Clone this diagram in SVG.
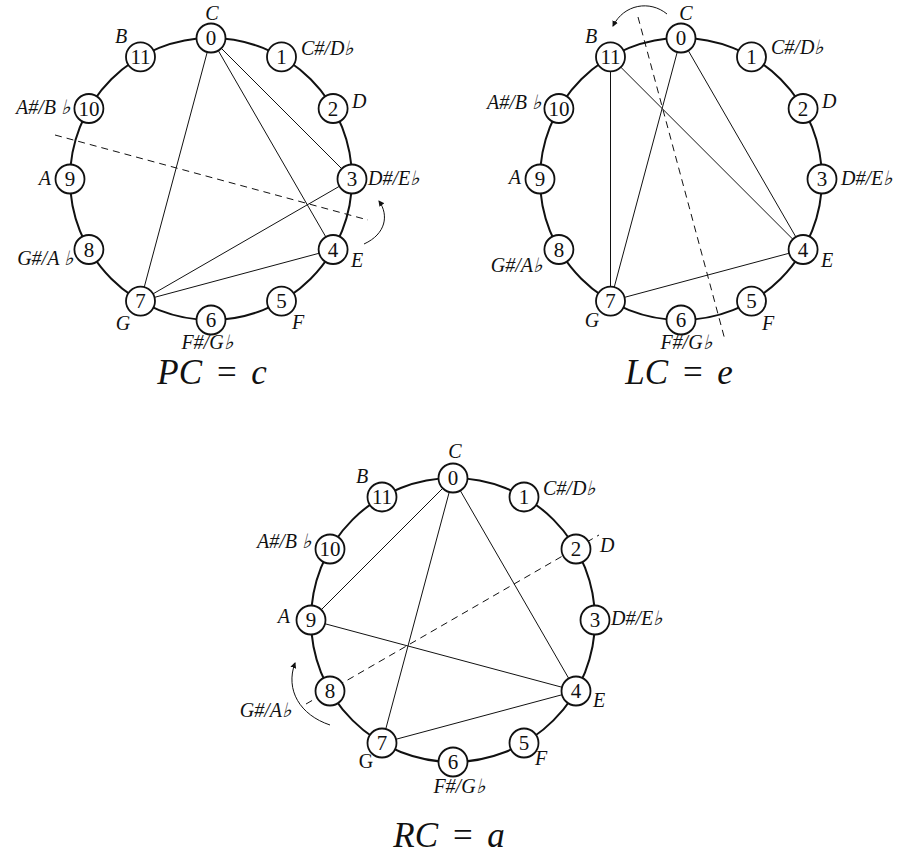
<svg xmlns="http://www.w3.org/2000/svg" width="901" height="854" viewBox="0 0 901 854">
<style>
.ring{fill:none;stroke:#111;stroke-width:2}
.chord{stroke:#111;stroke-width:1;fill:none}
.axis{stroke:#111;stroke-width:1;stroke-dasharray:7 5;fill:none}
.arr{stroke:#111;stroke-width:1;fill:none;marker-end:url(#ah)}
.node circle{fill:#fff;stroke:#111;stroke-width:1.8}
.num{font-family:"Liberation Serif","Times New Roman",serif;font-size:21px;text-anchor:middle;fill:#111}
.lab{font-family:"Liberation Serif","Times New Roman",serif;font-style:italic;font-size:20px;fill:#111}
.up{font-style:normal}
.m{text-anchor:middle}
.e{text-anchor:end}
.title{font-family:"Liberation Serif","Times New Roman",serif;font-style:italic;font-size:35px;word-spacing:4px;text-anchor:middle;fill:#111}
</style>
<defs>
<marker id="ah" markerWidth="8" markerHeight="8" refX="5" refY="3" orient="auto" markerUnits="userSpaceOnUse">
<path d="M0,0 L6,3 L0,6 Z" fill="#111"/>
</marker>
</defs>

<g id="rings">
<circle class="ring" cx="211" cy="179" r="141"/>
<circle class="ring" cx="681" cy="179" r="141"/>
<circle class="ring" cx="453" cy="620" r="142"/>
</g>

<g id="connectors">
<!-- PC = c -->
<line class="chord" x1="211" y1="38" x2="140.5" y2="301.1"/>
<line class="chord" x1="211" y1="38" x2="352" y2="179"/>
<line class="chord" x1="211" y1="38" x2="333.1" y2="249.5"/>
<line class="chord" x1="140.5" y1="301.1" x2="352" y2="179"/>
<line class="chord" x1="140.5" y1="301.1" x2="333.1" y2="249.5"/>
<line class="axis" x1="55" y1="135" x2="368" y2="220"/>
<path class="arr" d="M364,244 C386,234 389,215 379,201"/>
<!-- LC = e -->
<line class="chord" x1="610.5" y1="56.9" x2="610.5" y2="301.1"/>
<line class="chord" x1="610.5" y1="56.9" x2="803.1" y2="249.5"/>
<line class="chord" x1="681" y1="38" x2="610.5" y2="301.1"/>
<line class="chord" x1="681" y1="38" x2="803.1" y2="249.5"/>
<line class="chord" x1="610.5" y1="301.1" x2="803.1" y2="249.5"/>
<line class="axis" x1="638" y1="17" x2="725" y2="340"/>
<path class="arr" d="M667,14 C650,0 624,4 613,26"/>
<!-- RC = a -->
<line class="chord" x1="453" y1="478" x2="311" y2="620"/>
<line class="chord" x1="453" y1="478" x2="382" y2="743"/>
<line class="chord" x1="453" y1="478" x2="576" y2="691"/>
<line class="chord" x1="311" y1="620" x2="576" y2="691"/>
<line class="chord" x1="382" y1="743" x2="576" y2="691"/>
<line class="axis" x1="306" y1="704" x2="599" y2="535"/>
<path class="arr" d="M330,725 C300,715 285,690 295,663"/>
</g>

<!-- PC = c nodes -->
<g id="pc-0" class="node"><circle cx="211" cy="38" r="14.5"/><text class="num" x="211" y="45">0</text><text class="lab m" x="212" y="20">C</text></g>
<g id="pc-1" class="node"><circle cx="281.5" cy="56.9" r="14.5"/><text class="num" x="281.5" y="63.9">1</text><text class="lab" x="301" y="55">C#/D♭</text></g>
<g id="pc-2" class="node"><circle cx="333.1" cy="108.5" r="14.5"/><text class="num" x="333.1" y="115.5">2</text><text class="lab" x="352" y="108">D</text></g>
<g id="pc-3" class="node"><circle cx="352" cy="179" r="14.5"/><text class="num" x="352" y="186">3</text><text class="lab" x="368" y="185">D#/E♭</text></g>
<g id="pc-4" class="node"><circle cx="333.1" cy="249.5" r="14.5"/><text class="num" x="333.1" y="256.5">4</text><text class="lab" x="351" y="267">E</text></g>
<g id="pc-5" class="node"><circle cx="281.5" cy="301.1" r="14.5"/><text class="num" x="281.5" y="308.1">5</text><text class="lab" x="292" y="329">F</text></g>
<g id="pc-6" class="node"><circle cx="211" cy="320" r="14.5"/><text class="num" x="211" y="327">6</text><text class="lab m" x="207" y="349">F#/G♭</text></g>
<g id="pc-7" class="node"><circle cx="140.5" cy="301.1" r="14.5"/><text class="num" x="140.5" y="308.1">7</text><text class="lab m" x="123" y="330">G</text></g>
<g id="pc-8" class="node"><circle cx="88.9" cy="249.5" r="14.5"/><text class="num" x="88.9" y="256.5">8</text><text class="lab e" x="73" y="265">G#/A ♭</text></g>
<g id="pc-9" class="node"><circle cx="70" cy="179" r="14.5"/><text class="num" x="70" y="186">9</text><text class="lab e" x="51" y="185">A</text></g>
<g id="pc-10" class="node"><circle cx="88.9" cy="108.5" r="14.5"/><text class="num" x="88.9" y="115.5">10</text><text class="lab e" x="70" y="114">A#/B ♭</text></g>
<g id="pc-11" class="node"><circle cx="140.5" cy="56.9" r="14.5"/><text class="num" x="140.5" y="63.9">11</text><text class="lab m" x="121" y="43">B</text></g>

<!-- LC = e nodes -->
<g id="lc-0" class="node"><circle cx="681" cy="38" r="14.5"/><text class="num" x="681" y="45">0</text><text class="lab m" x="686" y="20">C</text></g>
<g id="lc-1" class="node"><circle cx="751.5" cy="56.9" r="14.5"/><text class="num" x="751.5" y="63.9">1</text><text class="lab" x="771" y="54">C#/D♭</text></g>
<g id="lc-2" class="node"><circle cx="803.1" cy="108.5" r="14.5"/><text class="num" x="803.1" y="115.5">2</text><text class="lab" x="822" y="108">D</text></g>
<g id="lc-3" class="node"><circle cx="822" cy="179" r="14.5"/><text class="num" x="822" y="186">3</text><text class="lab" x="841" y="185">D#/E♭</text></g>
<g id="lc-4" class="node"><circle cx="803.1" cy="249.5" r="14.5"/><text class="num" x="803.1" y="256.5">4</text><text class="lab" x="821" y="267">E</text></g>
<g id="lc-5" class="node"><circle cx="751.5" cy="301.1" r="14.5"/><text class="num" x="751.5" y="308.1">5</text><text class="lab" x="762" y="330">F</text></g>
<g id="lc-6" class="node"><circle cx="681" cy="320" r="14.5"/><text class="num" x="681" y="327">6</text><text class="lab m" x="686" y="349">F#/G♭</text></g>
<g id="lc-7" class="node"><circle cx="610.5" cy="301.1" r="14.5"/><text class="num" x="610.5" y="308.1">7</text><text class="lab m" x="592" y="327">G</text></g>
<g id="lc-8" class="node"><circle cx="558.9" cy="249.5" r="14.5"/><text class="num" x="558.9" y="256.5">8</text><text class="lab e" x="542" y="272">G#/A♭</text></g>
<g id="lc-9" class="node"><circle cx="540" cy="179" r="14.5"/><text class="num" x="540" y="186">9</text><text class="lab e" x="521" y="184">A</text></g>
<g id="lc-10" class="node"><circle cx="558.9" cy="108.5" r="14.5"/><text class="num" x="558.9" y="115.5">10</text><text class="lab e" x="541" y="109">A#/B ♭</text></g>
<g id="lc-11" class="node"><circle cx="610.5" cy="56.9" r="14.5"/><text class="num" x="610.5" y="63.9">11</text><text class="lab m" x="591" y="43">B</text></g>

<!-- RC = a nodes -->
<g id="rc-0" class="node"><circle cx="453" cy="478" r="14.5"/><text class="num" x="453" y="485">0</text><text class="lab m" x="455" y="458">C</text></g>
<g id="rc-1" class="node"><circle cx="524" cy="497" r="14.5"/><text class="num" x="524" y="504">1</text><text class="lab" x="543" y="495">C#/D♭</text></g>
<g id="rc-2" class="node"><circle cx="576" cy="549" r="14.5"/><text class="num" x="576" y="556">2</text><text class="lab" x="600" y="552">D</text></g>
<g id="rc-3" class="node"><circle cx="595" cy="620" r="14.5"/><text class="num" x="595" y="627">3</text><text class="lab" x="611" y="625">D#/E♭</text></g>
<g id="rc-4" class="node"><circle cx="576" cy="691" r="14.5"/><text class="num" x="576" y="698">4</text><text class="lab" x="593" y="707">E</text></g>
<g id="rc-5" class="node"><circle cx="524" cy="743" r="14.5"/><text class="num" x="524" y="750">5</text><text class="lab" x="535" y="765">F</text></g>
<g id="rc-6" class="node"><circle cx="453" cy="762" r="14.5"/><text class="num" x="453" y="769">6</text><text class="lab m" x="459" y="793">F#/G♭</text></g>
<g id="rc-7" class="node"><circle cx="382" cy="743" r="14.5"/><text class="num" x="382" y="750">7</text><text class="lab up m" x="366" y="768">G</text></g>
<g id="rc-8" class="node"><circle cx="330" cy="691" r="14.5"/><text class="num" x="330" y="698">8</text><text class="lab e" x="291" y="717">G#/A♭</text></g>
<g id="rc-9" class="node"><circle cx="311" cy="620" r="14.5"/><text class="num" x="311" y="627">9</text><text class="lab e" x="290" y="623">A</text></g>
<g id="rc-10" class="node"><circle cx="330" cy="549" r="14.5"/><text class="num" x="330" y="556">10</text><text class="lab e" x="311" y="548">A#/B ♭</text></g>
<g id="rc-11" class="node"><circle cx="382" cy="497" r="14.5"/><text class="num" x="382" y="504">11</text><text class="lab m" x="362" y="483">B</text></g>

<g id="titles">
<text class="title" x="212" y="384">PC = c</text>
<text class="title" x="679" y="384">LC = e</text>
<text class="title" x="449" y="847">RC = a</text>
</g>
</svg>
